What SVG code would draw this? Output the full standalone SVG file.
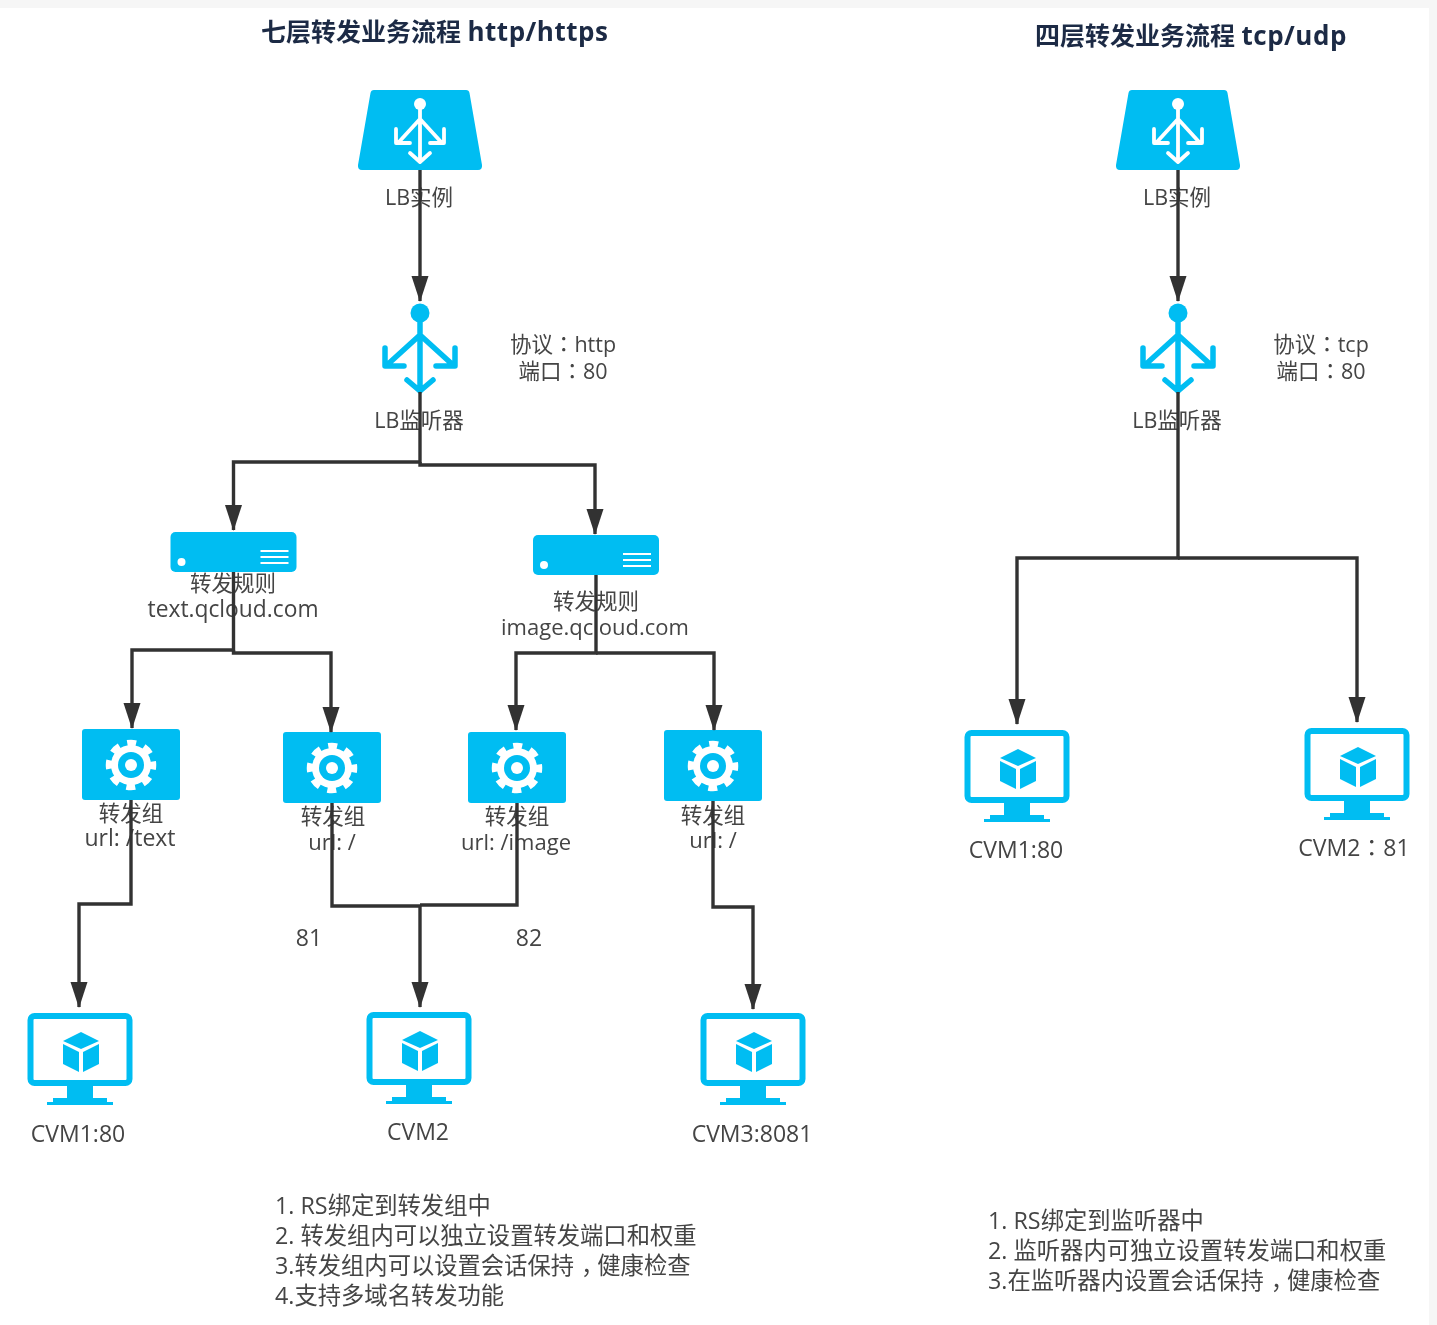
<svg xmlns="http://www.w3.org/2000/svg" width="1437" height="1325" viewBox="0 0 1437 1325">
<style>
text{font-family:"Open Sans","Noto Sans CJK SC",sans-serif;font-size:23px;fill:#444;text-anchor:middle}
.t{font-size:25px;font-weight:700;fill:#1b2a44;text-anchor:start}
.t tspan{font-size:26px;letter-spacing:.5px}
.z{font-size:21.500px}
.y{font-size:22px}
.q{font-size:22.800px}
.p{font-family:"Noto Sans CJK TC",sans-serif}
.n{text-anchor:start;font-size:23.300px}
.c{fill:none;stroke:#333;stroke-width:3.400}
.b{fill:#00bdf2}
.w{fill:none;stroke:#fff;stroke-width:3.800;stroke-linecap:round;stroke-linejoin:round}
.bl{fill:none;stroke:#00bdf2;stroke-width:5.500;stroke-linecap:round;stroke-linejoin:round}
</style>
<defs>
<filter id="s" filterUnits="userSpaceOnUse" x="0" y="0" width="1437" height="1325"><feGaussianBlur stdDeviation="0.500"/></filter>
<marker id="d" markerUnits="userSpaceOnUse" markerWidth="26" markerHeight="18" refX="25" refY="8.500" orient="auto" viewBox="0 0 26 18"><path d="M0 0L26 8.500L0 17Z" fill="#333"/></marker>
<g id="lb">
<path d="M-46 -40H46Q49 -40 49.500 -37L62 35Q62.500 40 58 40H-58Q-62.500 40 -62 35L-49.500 -37Q-49 -40 -46 -40Z" class="b"/>
<circle cy="-26" r="6" fill="#fff"/>
<path class="w" d="M0 -26V32M0 -11L-22 13M0 -11L22 13M-24 -1V13H-10M24 -1V13H10M-10 23L0 32L10 23"/>
</g>
<g id="ls">
<circle cy="-33" r="9.500" class="b"/>
<path class="bl" d="M0 -33V45M0 -11L-33 19M0 -11L33 19M-35 2V20H-16M35 2V20H16M-13 34L0 45L13 34"/>
</g>
<g id="ru">
<rect x="-63" y="-20" width="126" height="40" rx="5" class="b"/>
<circle cx="-52" cy="10" r="4" fill="#fff"/>
<path d="M27 -1H55M27 5H55M27 11H55" stroke="#fff" stroke-width="2.200" fill="none"/>
</g>
<g id="gr">
<rect x="-49" y="-36" width="98" height="71" rx="3" class="b"/>
<circle r="20" fill="#fff"/>
<circle r="22" fill="none" stroke="#fff" stroke-width="6.500" stroke-dasharray="9 8.280" stroke-dashoffset="4.500"/>
<circle r="13" class="b"/>
<circle r="6" fill="#fff"/>
</g>
<g id="vm">
<rect x="-49.500" y="-50" width="99" height="67" rx="4" fill="#fff" stroke="#00bdf2" stroke-width="6"/>
<path d="M-13 19H13V32H27V36H33V39H-33V36H-27V32H-13Z" class="b"/>
<path d="M1 -34L19 -25L1 -17L-17 -25ZM-17 -22L-1 -14V6L-17 -2ZM19 -22L3 -14V6L19 -2Z" class="b"/>
</g>
</defs>
<rect width="1437" height="1325" fill="#f6f6f6"/>
<rect x="0" y="8" width="1429" height="1317" fill="#fff"/>
<g filter="url(#s)">
<g id="titles">
<text class="t" x="261" y="41">七层转发业务流程 <tspan>http/https</tspan></text>
<text class="t" x="1035" y="45">四层转发业务流程 <tspan>tcp/udp</tspan></text>
</g>
<g id="lb1"><use href="#lb" x="420" y="130"/><text class="z" x="419" y="205">LB实例</text></g>
<g id="lb2"><use href="#lb" x="1178" y="130"/><text class="z" x="1177" y="205">LB实例</text></g>
<g id="ls1"><use href="#ls" x="420" y="346"/><text class="z" x="419" y="428">LB监听器</text>
<text class="z" x="563" y="352">协议<tspan class="p">：</tspan>http</text><text class="z" x="563" y="379">端口<tspan class="p">：</tspan>80</text></g>
<g id="ls2"><use href="#ls" x="1178" y="346"/><text class="z" x="1177" y="428">LB监听器</text>
<text class="z" x="1321" y="352">协议<tspan class="p">：</tspan>tcp</text><text class="z" x="1321" y="379">端口<tspan class="p">：</tspan>80</text></g>
<g id="rule1"><use href="#ru" x="233.500" y="552"/><text class="z" x="233" y="591">转发规则</text><text class="q" x="233" y="617">text.qcloud.com</text></g>
<g id="rule2"><use href="#ru" x="596" y="555"/><text class="z" x="596" y="609">转发规则</text><text class="y" x="595" y="635">image.qcloud.com</text></g>
<g id="group1"><use href="#gr" x="131" y="765"/><text class="z" x="131" y="821">转发组</text><text x="130" y="846">url: /text</text></g>
<g id="group2"><use href="#gr" x="332" y="768"/><text class="z" x="333" y="824">转发组</text><text class="y" x="332" y="850">url: /</text></g>
<g id="group3"><use href="#gr" x="517" y="768"/><text class="z" x="517" y="824">转发组</text><text class="y" x="516" y="850">url: /image</text></g>
<g id="group4"><use href="#gr" x="713" y="766"/><text class="z" x="713" y="823">转发组</text><text class="y" x="713" y="848">url: /</text></g>
<g id="cvm1"><use href="#vm" x="80" y="1066"/><text x="78" y="1142">CVM1:80</text></g>
<g id="cvm2"><use href="#vm" x="419" y="1065"/><text x="418" y="1140">CVM2</text></g>
<g id="cvm3"><use href="#vm" x="753" y="1066"/><text x="752" y="1142">CVM3:8081</text></g>
<g id="cvm4"><use href="#vm" x="1017" y="783"/><text x="1016" y="858">CVM1:80</text></g>
<g id="cvm5"><use href="#vm" x="1357" y="781"/><text x="1354" y="856">CVM2<tspan class="p">：</tspan>81</text></g>
<g id="labels"><text x="309" y="946">81</text><text x="529" y="946">82</text></g>
<g id="notes1">
<text class="n" x="275" y="1214">1. RS绑定到转发组中</text>
<text class="n" x="275" y="1244">2. 转发组内可以独立设置转发端口和权重</text>
<text class="n" x="275" y="1274">3.转发组内可以设置会话保持<tspan dx="7">，</tspan><tspan dx="-7">健康检查</tspan></text>
<text class="n" x="275" y="1304">4.支持多域名转发功能</text>
</g>
<g id="notes2">
<text class="n" x="988" y="1229">1. RS绑定到监听器中</text>
<text class="n" x="988" y="1259">2. 监听器内可独立设置转发端口和权重</text>
<text class="n" x="988" y="1289">3.在监听器内设置会话保持<tspan dx="7">，</tspan><tspan dx="-7">健康检查</tspan></text>
</g>
<g id="connectors">
<path class="c" d="M420 170V301" marker-end="url(#d)"/>
<path class="c" d="M1178 170V301" marker-end="url(#d)"/>
<path class="c" d="M420 392V462H233.500V530" marker-end="url(#d)"/>
<path class="c" d="M420 462V465H595V534" marker-end="url(#d)"/>
<path class="c" d="M1178 392V558H1017V724" marker-end="url(#d)"/>
<path class="c" d="M1178 558H1357V722" marker-end="url(#d)"/>
<path class="c" d="M233.500 572V650H132V728" marker-end="url(#d)"/>
<path class="c" d="M233.500 650V653H331V732" marker-end="url(#d)"/>
<path class="c" d="M596 575V653H516V730" marker-end="url(#d)"/>
<path class="c" d="M596 653H714V730" marker-end="url(#d)"/>
<path class="c" d="M131 800V904H79V1007" marker-end="url(#d)"/>
<path class="c" d="M332 803V906H420V1007" marker-end="url(#d)"/>
<path class="c" d="M517 803V905H420"/>
<path class="c" d="M713 801V907H753V1009" marker-end="url(#d)"/>
</g>
</g>
</svg>
